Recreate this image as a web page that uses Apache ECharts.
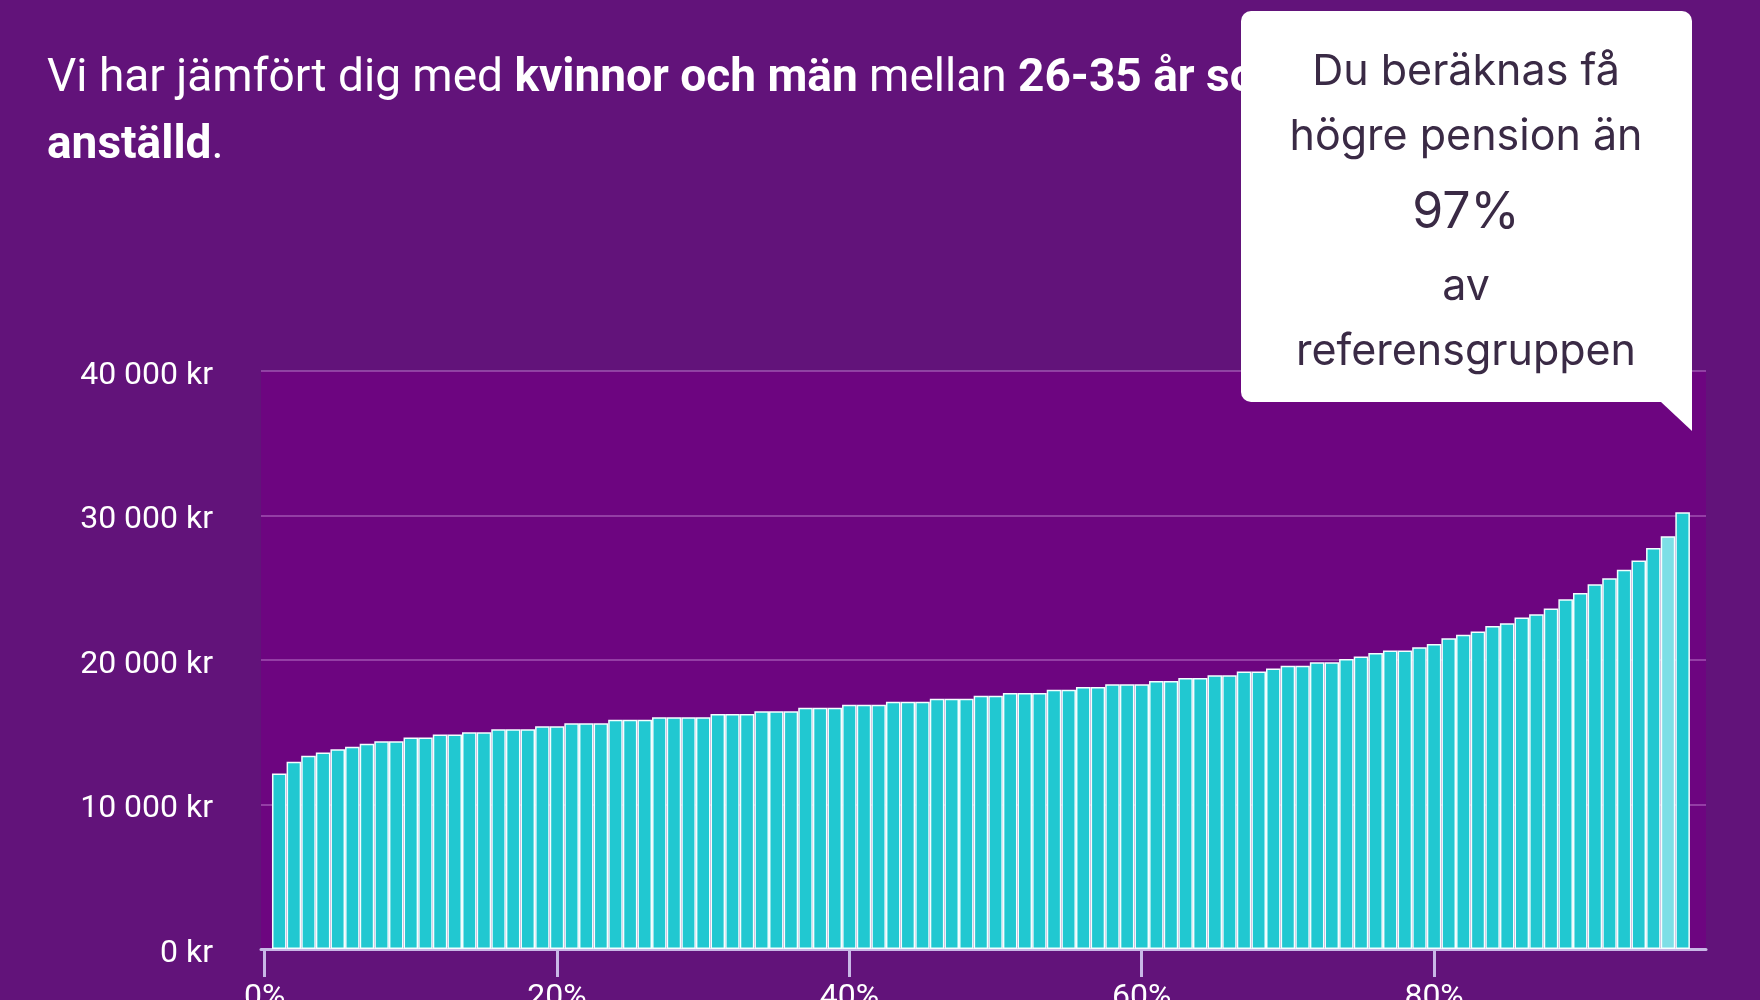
<!DOCTYPE html>
<html>
<head>
<meta charset="utf-8">
<script src="https://cdn.jsdelivr.net/npm/echarts@6/dist/echarts.min.js"></script>
<style>
  html, body { margin: 0; padding: 0; background: #62137a; }
  #main { width: 1760px; height: 1000px; }
</style>
</head>
<body>
<div id="main"></div>
<script>
// percentiles (x) and estimated monthly pension per percentile (kr)
var percentiles = [];
for (var i = 1; i <= 97; i++) percentiles.push(i);
var pension = [
  12150, 12960, 13380, 13590, 13820, 14000, 14210, 14370, 14370, 14630,
  14630, 14840, 14840, 15000, 15000, 15210, 15210, 15210, 15420, 15420,
  15630, 15630, 15630, 15860, 15860, 15860, 16040, 16040, 16040, 16040,
  16270, 16270, 16270, 16460, 16460, 16460, 16690, 16690, 16690, 16900,
  16900, 16900, 17110, 17110, 17110, 17310, 17310, 17310, 17520, 17520,
  17710, 17710, 17710, 17940, 17940, 18130, 18130, 18330, 18330, 18330,
  18540, 18540, 18750, 18750, 18940, 18940, 19210, 19210, 19420, 19600,
  19600, 19840, 19840, 20070, 20250, 20490, 20650, 20650, 20880, 21110,
  21500, 21740, 21970, 22350, 22550, 22940, 23170, 23570, 24210, 24630,
  25250, 25650, 26250, 26880, 27750, 28570, 30230
];
var userPercentile = 96;
var xTicks = [0, 20, 40, 60, 80];
var tipLines = ['Du beräknas få', 'högre pension än', '97%', 'av', 'referensgruppen'];

function kr(v) {
  return String(v).replace(/\B(?=(\d{3})+(?!\d))/g, ' ') + ' kr';
}

var barData = percentiles.map(function (p, i) {
  var d = { value: [p, pension[i]] };
  if (p === userPercentile) d.itemStyle = { color: '#7ddfe6' };
  return d;
});

var tipText = tipLines.map(function (t, i) {
  var ys = [72, 137, 213, 287, 352];
  return {
    type: 'text',
    z: 102,
    style: {
      x: 1466, y: ys[i], text: t,
      align: 'center', verticalAlign: 'middle',
      fill: '#3a2a45',
      font: (i === 2 ? '50px' : '43px') + ' Inter, "Noto Sans", sans-serif'
    }
  };
});

var option = {
  backgroundColor: '#62137a',
  animation: false,
  title: {
    left: 47,
    top: 46,
    padding: 0,
    z: 1,
    text: '{r|Vi har jämfört dig med }{b|kvinnor och män}{r| mellan }{b|26-35 år som är}\n{b|anställd}{r|.}',
    textStyle: {
      rich: {
        r: { color: '#fff', fontSize: 46, fontFamily: 'Roboto', fontWeight: 'normal', lineHeight: 67 },
        b: { color: '#fff', fontSize: 46, fontFamily: 'Roboto', fontWeight: 'bold', lineHeight: 67 }
      }
    }
  },
  grid: {
    left: 261, right: 54, top: 371, bottom: 51,
    outerBoundsMode: 'none',
    show: true, backgroundColor: '#6d0580', borderWidth: 0
  },
  xAxis: {
    type: 'value',
    min: -0.25,
    max: 98.6,
    axisLine: { lineStyle: { color: '#c8b8e6', width: 3 } },
    axisTick: { customValues: xTicks, length: 28, lineStyle: { color: '#c8b8e6', width: 3 } },
    axisLabel: {
      customValues: xTicks,
      formatter: function (v) { return v + '%'; },
      color: '#fff', fontSize: 32, fontFamily: 'Roboto', margin: 33
    },
    splitLine: { show: false }
  },
  yAxis: {
    type: 'value',
    min: 0, max: 40000, interval: 10000,
    axisLine: { show: false },
    axisTick: { show: false },
    axisLabel: {
      formatter: kr, color: '#fff', fontSize: 32, fontFamily: 'Roboto', margin: 48,
      verticalAlign: 'top', lineHeight: 9
    },
    splitLine: { lineStyle: { color: 'rgba(220,170,235,0.35)', width: 2 } }
  },
  series: [{
    type: 'bar',
    data: barData,
    barWidth: 14.6,
    itemStyle: { color: '#21c8d1', borderColor: '#f4ffff', borderWidth: 1.5 },
    silent: true
  }],
  graphic: [
    { type: 'rect', z: 100, shape: { x: 1241, y: 11, width: 451, height: 391, r: 10 }, style: { fill: '#fff' } },
    { type: 'polygon', z: 100, shape: { points: [[1661, 402], [1661, 388], [1692, 388], [1692, 431]] }, style: { fill: '#fff' } }
  ].concat(tipText)
};

var myChart = echarts.init(document.getElementById('main'));
myChart.setOption(option);
</script>
</body>
</html>
